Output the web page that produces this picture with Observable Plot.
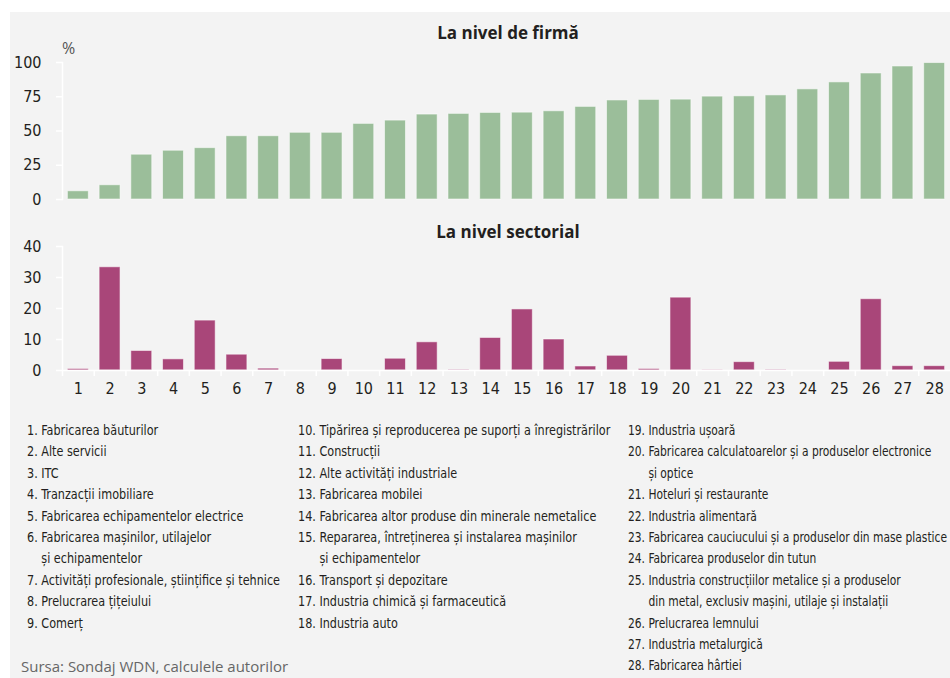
<!DOCTYPE html>
<html><head><meta charset="utf-8">
<script src="https://cdn.jsdelivr.net/npm/d3@7"></script>
<script src="https://cdn.jsdelivr.net/npm/@observablehq/plot@0.6"></script>
<style>
body{margin:0;background:#fff;width:950px;height:678px;overflow:hidden;position:relative;}
#bg{position:absolute;left:10px;top:12px;width:940px;height:666px;background:#f3f3f3;}
.abs{position:absolute;white-space:nowrap;}
.title{font-family:"Open Sans",sans-serif;font-weight:700;font-size:17px;color:#231f20;transform:translateX(-50%);}
.narrow{font-family:"DejaVu Sans Condensed","Liberation Sans",sans-serif;}
.leg{font-size:14px;line-height:21.4px;color:#231f20;transform-origin:0 0;}
.leg .item{display:flex;}
.leg .num{white-space:pre;}
#src{font-family:"Open Sans",sans-serif;font-size:15px;color:#666;}
</style></head>
<body>
<div id="bg"></div>
<div id="top" class="abs" style="left:0;top:12px"></div>
<div id="bot" class="abs" style="left:0;top:212px"></div>
<div class="abs title" style="left:508px;top:21px">La nivel de firmă</div>
<div class="abs title" style="left:508px;top:220px">La nivel sectorial</div>
<div class="abs" style="left:62px;top:37px;font-family:'Open Sans',sans-serif;font-size:16px;color:#555">%</div>
<div id="leg1" class="abs narrow leg" style="left:27px;top:420px"></div>
<div id="leg2" class="abs narrow leg" style="left:298px;top:420px"></div>
<div id="leg3" class="abs narrow leg" style="left:628px;top:420px"></div>
<div id="src" class="abs" style="left:21px;top:656px">Sursa: Sondaj WDN, calculele autorilor</div>
<script>
const categories = d3.range(1, 29);
const firmValues = [6.0,10.4,32.7,35.6,37.5,46.2,46.2,48.7,48.7,55.2,57.6,62.0,62.5,63.2,63.4,64.4,67.6,72.3,72.7,72.9,75.1,75.3,76.0,80.4,85.5,92.0,97.1,99.6];
const sectorValues = [0.5,33.3,6.3,3.6,16.1,5.1,0.6,0,3.7,0,3.8,9.1,0.2,10.5,19.7,10.0,1.3,4.75,0.5,23.5,0.1,2.7,0.2,0,2.8,23.0,1.4,1.4];
const firmTicks = [0,25,50,75,100];
const sectorTicks = [0,10,20,30,40];
const legendLabels = [
 "Fabricarea băuturilor","Alte servicii","ITC","Tranzacții imobiliare","Fabricarea echipamentelor electrice",
 "Fabricarea mașinilor, utilajelor\nși echipamentelor","Activități profesionale, științifice și tehnice",
 "Prelucrarea țițeiului","Comerț","Tipărirea și reproducerea pe suporți a înregistrărilor","Construcții",
 "Alte activități industriale","Fabricarea mobilei","Fabricarea altor produse din minerale nemetalice",
 "Repararea, întreținerea și instalarea mașinilor\nși echipamentelor","Transport și depozitare",
 "Industria chimică și farmaceutică","Industria auto","Industria ușoară",
 "Fabricarea calculatoarelor și a produselor electronice\nși optice","Hoteluri și restaurante",
 "Industria alimentară","Fabricarea cauciucului și a produselor din mase plastice","Fabricarea produselor din tutun",
 "Industria construcțiilor metalice și a produselor\ndin metal, exclusiv mașini, utilaje și instalații",
 "Prelucrarea lemnului","Industria metalurgică","Fabricarea hârtiei"];
const legendColumns = [[1,9],[10,18],[19,28]];

const firm = categories.map((c,i)=>({cat:c, v:firmValues[i]}));
const sector = categories.map((c,i)=>({cat:c, v:sectorValues[i]}));

const W = 950, ML = 62, MR = 0;
const step = (W - ML - MR) / categories.length;
const font = '"DejaVu Sans Condensed","Liberation Sans",sans-serif';
const ink = "#231f20";
const xScale = {type: "band", domain: categories, paddingInner: 0.34, paddingOuter: 0.17, round: false};

const topPlot = Plot.plot({
  width: W, height: 200, marginLeft: ML, marginRight: MR, marginTop: 50, marginBottom: 13,
  style: {background: "transparent", fontFamily: font, fontSize: "16px", color: ink, overflow: "visible"},
  x: {...xScale, axis: null},
  y: {domain: [0, 100]},
  marks: [
    Plot.barY(firm, {x: "cat", y: "v", fill: "#9bbe9a", stroke: "#fff", strokeOpacity: 0.55}),
    Plot.axisY(firmTicks, {tickSize: 6, tickPadding: 15, stroke: "#fff", strokeWidth: 1.5, fill: ink, label: null}),
    Plot.frame({anchor: "left", stroke: "#fff", strokeWidth: 1.5})
  ]
});
document.getElementById("top").appendChild(topPlot);

const botPlot = Plot.plot({
  width: W, height: 190, marginLeft: ML, marginRight: MR, marginTop: 34, marginBottom: 32,
  style: {background: "transparent", fontFamily: font, fontSize: "16px", color: ink, overflow: "visible"},
  x: xScale,
  y: {domain: [0, 40]},
  marks: [
    Plot.barY(sector, {x: "cat", y: "v", fill: "#a94679", stroke: "#fff", strokeOpacity: 0.55}),
    Plot.axisY(sectorTicks, {tickSize: 6, tickPadding: 15, stroke: "#fff", strokeWidth: 1.5, fill: ink, label: null}),
    Plot.axisX(categories, {tickSize: 0, tickPadding: 12, fill: ink, label: null}),
    Plot.axisX(categories, {tickSize: 6, tickFormat: () => "", stroke: "#fff", strokeWidth: 1.5, dx: -step/2, label: null}),
    Plot.frame({anchor: "left", stroke: "#fff", strokeWidth: 1.5}),
    Plot.frame({anchor: "bottom", stroke: "#fff", strokeWidth: 1.5})
  ]
});
document.getElementById("bot").appendChild(botPlot);

// condensed look: scale legend horizontally so item 7 spans the same width as in the reference
const ctx = document.createElement("canvas").getContext("2d");
ctx.font = '14px "DejaVu Sans Condensed"';
const refW = ctx.measureText("7. " + legendLabels[6]).width;
const sx = Math.min(1, 253 / refW);
const w23 = ctx.measureText("23. " + legendLabels[22]).width;
const sx3 = Math.min(sx, 319 / w23);

legendColumns.forEach(([a,b],k)=>{
  const el = document.getElementById("leg"+(k+1));
  el.style.transform = `scaleX(${k === 2 ? sx3 : sx})`;
  for (let n=a; n<=b; n++){
    const item = document.createElement("div");
    item.className = "item";
    const num = document.createElement("span");
    num.className = "num";
    num.textContent = n + ". ";
    const txt = document.createElement("span");
    legendLabels[n-1].split("\n").forEach((p,j)=>{
      const d = document.createElement("div");
      d.textContent = p;
      txt.appendChild(d);
    });
    item.appendChild(num); item.appendChild(txt);
    el.appendChild(item);
  }
});
</script>
</body></html>
